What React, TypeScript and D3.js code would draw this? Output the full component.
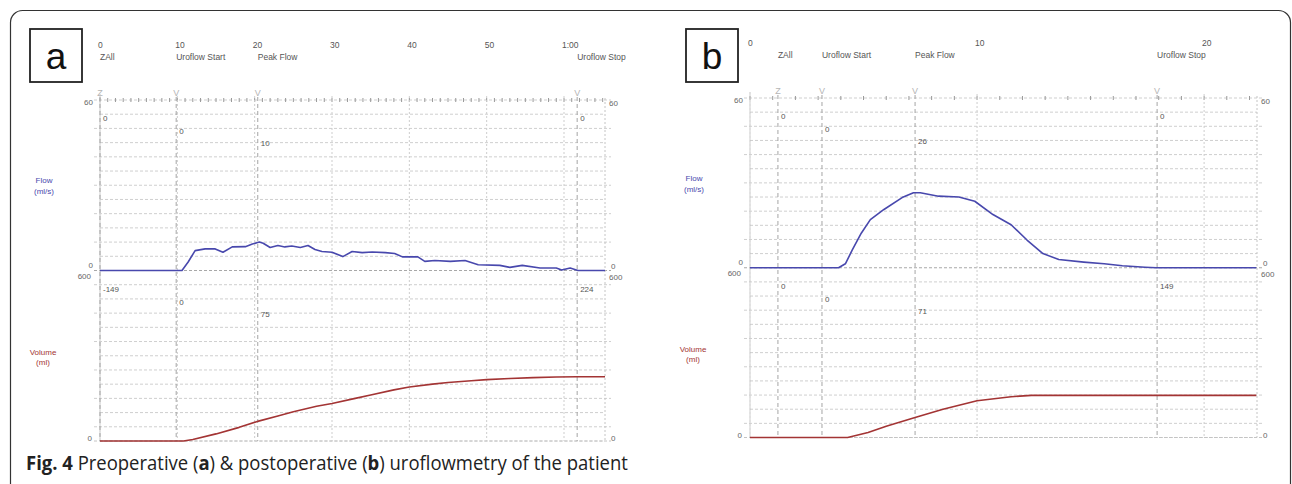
import { useLayoutEffect, useRef, useState } from "react";
import * as d3 from "d3";

const FLOW_MAX = 60;
const VOLUME_MAX = 600;

// panel a (preoperative)
const aTickTimes = [0, 10, 20, 30, 40, 50, 60];
const aTickLabels = ["0", "10", "20", "30", "40", "50", "1:00"];
const aMarkerNames = ["ZAll", "Uroflow Start", "Peak Flow", "Uroflow Stop"];
const aMarkerTimes = [0, 9.85, 20.4, 61.7];
const aMarkerFlow = ["0", "0", "10", "0"];
const aMarkerVolume = ["-149", "0", "75", "224"];
const aFlow: [number, number][] = [
  [0, 0], [10.6, 0], [11.4, 3], [12.3, 7], [13.6, 7.6], [14.9, 7.6], [15.9, 6.4],
  [17.1, 8.3], [18.8, 8.4], [19.7, 9.3], [20.6, 10], [21.1, 9.6], [22, 8.1],
  [23, 8.8], [23.9, 8.3], [24.8, 8.6], [25.9, 8.1], [26.9, 8.8], [27.8, 7.4],
  [28.7, 6.7], [30, 6.4], [31.4, 4.9], [32.6, 6.7], [33.9, 6.3], [35.2, 6.5],
  [36.9, 6.3], [38.1, 6], [39.1, 4.8], [41.1, 4.8], [42, 3.2], [43.3, 3.5],
  [45.3, 3.2], [47.2, 3.5], [48.9, 2], [51.7, 1.8], [53, 1.1], [54.6, 1.8],
  [56.9, 0.9], [59, 0.9], [59.7, 0.2], [60.8, 0.9], [61.8, 0], [65.3, 0],
];
const aVolume: [number, number][] = [
  [0, 0], [10.8, 0], [12, 5], [15, 25], [18, 48], [20.5, 70], [23, 88], [25, 103],
  [28, 122], [30, 132], [33, 150], [35, 162], [38, 180], [40, 190], [43, 200],
  [45, 206], [48, 212], [50, 216], [53, 220], [56, 223], [59, 225], [61.7, 226], [65.3, 226],
];

// panel b (postoperative)
const bTickTimes = [0, 10, 20];
const bTickLabels = ["0", "10", "20"];
const bMarkerNames = ["ZAll", "Uroflow Start", "Peak Flow", "Uroflow Stop"];
const bMarkerTimes = [1.23, 3.17, 7.27, 17.93];
const bMarkerFlow = ["0", "0", "26", "0"];
const bMarkerVolume = ["0", "0", "71", "149"];
const bFlow: [number, number][] = [
  [0, 0], [3.9, 0], [4.2, 1.4], [4.5, 6.2], [4.9, 12.2], [5.3, 17], [5.9, 20.6],
  [6.7, 24.8], [7.2, 26.5], [7.5, 26.5], [8.3, 25.3], [9.2, 25], [9.9, 23.5],
  [10.7, 18.8], [11.5, 15.2], [12.2, 9.8], [12.9, 5], [13.6, 2.9], [14.7, 2],
  [15.6, 1.4], [16.4, 0.7], [17.4, 0.2], [17.9, 0], [22.3, 0],
];
const bVolume: [number, number][] = [
  [0, 0], [4.3, 0], [5.2, 18], [6, 40], [7.27, 71], [8.5, 100], [10, 130],
  [11.5, 144], [12.4, 149], [22.3, 149],
];

const TEXT_FONT = "'Liberation Sans', Arial, sans-serif";
const FLOW_COLOR = "#4848ad";
const VOLUME_COLOR = "#a33434";
const CAPTION_WIDTH = 602;

type PanelProps = {
  letter: string;
  box: [number, number];
  left: number;
  right: number;
  top: number;
  bottom: number;
  tEnd: number;
  tickTimes: number[];
  tickLabels: string[];
  markerNames: string[];
  markerTimes: number[];
  markerFlow: string[];
  markerVolume: string[];
  flow: [number, number][];
  volume: [number, number][];
};

function Panel(p: PanelProps) {
  const mid = (p.top + p.bottom) / 2;
  const x = d3.scaleLinear().domain([0, p.tEnd]).range([p.left, p.right]);
  const yFlow = d3.scaleLinear().domain([0, FLOW_MAX]).range([mid, p.top]);
  const yVol = d3.scaleLinear().domain([0, VOLUME_MAX]).range([p.bottom, mid]);

  const flowLine = d3
    .line<[number, number]>()
    .x((d) => x(d[0]))
    .y((d) => yFlow(d[1]));
  const volLine = d3
    .line<[number, number]>()
    .x((d) => x(d[0]))
    .y((d) => yVol(d[1]));

  const hLines = [
    ...yFlow.ticks(10).map((v) => yFlow(v)),
    ...yVol.ticks(10).filter((v) => v < VOLUME_MAX).map((v) => yVol(v)),
  ];
  const secondTicks = d3.range(0, Math.floor(p.tEnd) + 1);
  const rowOffsets = [21, 34, 46, 21];

  return (
    <g fontFamily={TEXT_FONT}>
      <rect x={p.box[0]} y={p.box[1]} width={52} height={53} fill="none" stroke="#222" strokeWidth={1.8} />
      <text x={p.box[0] + 26} y={p.box[1] + 40} fontSize={37} textAnchor="middle" fill="#111">
        {p.letter}
      </text>

      {/* time header */}
      {p.tickTimes.map((t, i) => (
        <text key={"tt" + i} x={x(t) - 2} y={p.top - 52} fontSize={8.5} fill="#555">
          {p.tickLabels[i]}
        </text>
      ))}
      {p.markerNames.map((n, i) => (
        <text key={"mn" + i} x={x(p.markerTimes[i])} y={p.top - 40} fontSize={8.5} fill="#555">
          {n}
        </text>
      ))}
      {p.markerNames.map((n, i) => (
        <text key={"mk" + i} x={x(p.markerTimes[i])} y={p.top - 4} fontSize={9} fill="#b5b5b5" textAnchor="middle">
          {i === 0 ? "Z" : "V"}
        </text>
      ))}

      {/* horizontal grid */}
      {hLines.map((y, i) => (
        <line
          key={"h" + i}
          x1={i % 2 === 0 ? p.left - 6 : p.left}
          x2={i % 2 === 0 ? p.right + 6 : p.right}
          y1={y}
          y2={y}
          stroke={i === 0 || Math.abs(y - mid) < 1 ? "#a8a8a8" : "#cfcfcf"}
          strokeDasharray="3,2"
        />
      ))}
      <line x1={p.left - 6} x2={p.right + 6} y1={p.bottom} y2={p.bottom} stroke="#c4c4c4" strokeDasharray="3,2" />
      {secondTicks.map((t) => (
        <line key={"s" + t} x1={x(t)} x2={x(t)} y1={p.top - 2} y2={p.top + 2} stroke="#999" />
      ))}

      {/* vertical grid */}
      {p.tickTimes.map((t) => (
        <line key={"v" + t} x1={x(t)} x2={x(t)} y1={p.top - 4} y2={p.bottom} stroke="#cdcdcd" strokeDasharray="2,2" />
      ))}
      <line x1={p.left} x2={p.left} y1={p.top - 6} y2={p.bottom} stroke="#c4c4c4" strokeDasharray="2,2" />
      <line x1={p.right} x2={p.right} y1={p.top - 2} y2={p.bottom} stroke="#c4c4c4" strokeDasharray="2,2" />
      {p.markerTimes.map((t, i) => (
        <line key={"m" + i} x1={x(t)} x2={x(t)} y1={p.top - 3} y2={p.bottom} stroke="#a5a5a5" strokeDasharray="4,3" />
      ))}

      {/* marker values */}
      {p.markerTimes.map((t, i) => (
        <g key={"mv" + i} fontSize={8} fill="#555">
          <text x={x(t) + 3} y={p.top + rowOffsets[i]}>{p.markerFlow[i]}</text>
          <text x={x(t) + 3} y={mid + rowOffsets[i]}>{p.markerVolume[i]}</text>
        </g>
      ))}

      {/* side scales */}
      <g fontSize={8} fill="#666">
        <text x={p.left - 7} y={p.top + 5} textAnchor="end">{FLOW_MAX}</text>
        <text x={p.left - 7} y={mid - 3} textAnchor="end">0</text>
        <text x={p.left - 9} y={mid + 8} textAnchor="end">{VOLUME_MAX}</text>
        <text x={p.left - 8} y={p.bottom} textAnchor="end">0</text>
        <text x={p.right + 4} y={p.top + 6}>{FLOW_MAX}</text>
        <text x={p.right + 6} y={mid - 2}>0</text>
        <text x={p.right + 4} y={mid + 9}>{VOLUME_MAX}</text>
        <text x={p.right + 6} y={p.bottom}>0</text>
      </g>
      <g fontSize={8} textAnchor="middle">
        <text x={p.left - 56} y={p.top + 83} fill={FLOW_COLOR}>Flow</text>
        <text x={p.left - 56} y={p.top + 94} fill={FLOW_COLOR}>(ml/s)</text>
        <text x={p.left - 57} y={mid + 84} fill={VOLUME_COLOR}>Volume</text>
        <text x={p.left - 57} y={mid + 94} fill={VOLUME_COLOR}>(ml)</text>
      </g>

      <path d={flowLine(p.flow) ?? ""} fill="none" stroke={FLOW_COLOR} strokeWidth={1.6} strokeLinejoin="round" />
      <path d={volLine(p.volume) ?? ""} fill="none" stroke={VOLUME_COLOR} strokeWidth={1.6} strokeLinejoin="round" />
    </g>
  );
}

function Caption() {
  const ref = useRef<SVGTextElement>(null);
  const [sx, setSx] = useState(1);
  useLayoutEffect(() => {
    if (!ref.current) return;
    const w = ref.current.getComputedTextLength();
    if (w > 0) setSx(CAPTION_WIDTH / w);
  }, []);
  return (
    <g transform={`translate(26,470) scale(${sx},1)`}>
      <text ref={ref} x={0} y={0} fontFamily="'Open Sans', 'Noto Sans', sans-serif" fontSize={20} fill="#222">
        <tspan fontWeight="bold">Fig. 4</tspan>
        {"  Preoperative ("}
        <tspan fontWeight="bold">a</tspan>
        {") & postoperative ("}
        <tspan fontWeight="bold">b</tspan>
        {") uroflowmetry of the patient"}
      </text>
    </g>
  );
}

export default function App() {
  return (
    <svg
      width={1292}
      height={484}
      style={{ position: "absolute", left: 0, top: 0, background: "#fff", display: "block" }}
    >
      <rect x={10.5} y={10.5} width={1280} height={490} rx={12} fill="#fff" stroke="#333" strokeWidth={1.2} />
      <Panel
        letter="a"
        box={[30, 29]}
        left={100}
        right={605}
        top={100}
        bottom={441}
        tEnd={65.3}
        tickTimes={aTickTimes}
        tickLabels={aTickLabels}
        markerNames={aMarkerNames}
        markerTimes={aMarkerTimes}
        markerFlow={aMarkerFlow}
        markerVolume={aMarkerVolume}
        flow={aFlow}
        volume={aVolume}
      />
      <Panel
        letter="b"
        box={[686, 29]}
        left={750}
        right={1257}
        top={98}
        bottom={437.5}
        tEnd={22.33}
        tickTimes={bTickTimes}
        tickLabels={bTickLabels}
        markerNames={bMarkerNames}
        markerTimes={bMarkerTimes}
        markerFlow={bMarkerFlow}
        markerVolume={bMarkerVolume}
        flow={bFlow}
        volume={bVolume}
      />
      <Caption />
    </svg>
  );
}
